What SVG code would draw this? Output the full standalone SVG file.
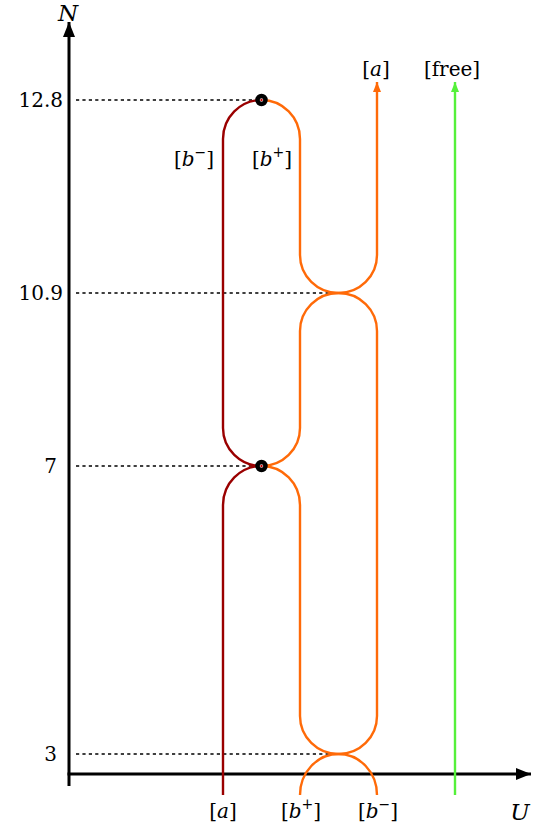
<svg xmlns="http://www.w3.org/2000/svg" width="543" height="831" viewBox="0 0 543 831">
<style>
text{font-family:"DejaVu Serif","Liberation Serif",serif;font-size:20px;fill:#000}
.it{font-style:italic}
.ax-l{font-size:23px}
.lbl{text-anchor:middle}
.num{text-anchor:end}
.axis{stroke:#000;stroke-width:3;fill:none}
.dot{stroke:#000;stroke-width:1.6;stroke-dasharray:3.2 3.2;fill:none}
.red{stroke:#9a0000;stroke-width:2.4;fill:none}
.org{stroke:#ff6a08;stroke-width:2.4;fill:none}
.grn{stroke:#55f03a;stroke-width:2.4;fill:none}
.node{fill:#fff;stroke:#000;stroke-width:4.5}
</style>
<defs>
<marker id="ax" markerWidth="16" markerHeight="12" refX="15" refY="6" orient="auto" markerUnits="userSpaceOnUse"><path d="M0,0 L15,6 L0,12 Z" fill="#000"/></marker>
<marker id="ao" markerWidth="11" markerHeight="8" refX="10" refY="4" orient="auto" markerUnits="userSpaceOnUse"><path d="M0,0 L10,4 L0,8 Z" fill="#ff6a08"/></marker>
<marker id="ag" markerWidth="11" markerHeight="8" refX="10" refY="4" orient="auto" markerUnits="userSpaceOnUse"><path d="M0,0 L10,4 L0,8 Z" fill="#55f03a"/></marker>
</defs>
<g id="guides">
<line class="dot" x1="76" y1="100" x2="255" y2="100"/>
<line class="dot" x1="76" y1="293" x2="330" y2="293"/>
<line class="dot" x1="76" y1="466" x2="255" y2="466"/>
<line class="dot" x1="76" y1="754" x2="330" y2="754"/>
</g>
<g id="axes">
<line class="axis" x1="69" y1="786" x2="69" y2="22" marker-end="url(#ax)"/>
<line class="axis" x1="67.5" y1="774" x2="531" y2="774" marker-end="url(#ax)"/>
<text class="it ax-l" x="68" y="21" text-anchor="middle">N</text>
<text class="it ax-l" x="520" y="820" text-anchor="middle">U</text>
<text class="num" x="63" y="107">12.8</text>
<text class="num" x="63" y="300">10.9</text>
<text class="num" x="57" y="473">7</text>
<text class="num" x="57" y="761">3</text>
</g>
<g id="connectors">
<path class="red" d="M223,795 V505 A38.5,39 0 0 1 261.5,466"/>
<path class="red" d="M261.5,466 A38.5,38 0 0 1 223,428 V139 A38.5,39 0 0 1 261.5,100"/>
<path class="org" d="M261.5,100 A38.5,39 0 0 1 300,139 V255 A38.5,38 0 0 0 338.5,293"/>
<path class="org" d="M338.5,293 A38.5,38 0 0 0 377,255 V82" marker-end="url(#ao)"/>
<path class="org" d="M261.5,466 A38.5,38 0 0 0 300,428 V331 A38.5,38 0 0 1 338.5,293 A38.5,38 0 0 1 377,331 V716 A38.5,38 0 0 1 338.5,754 A38.5,38 0 0 1 300,716 V505 A38.5,39 0 0 0 261.5,466"/>
<path class="org" d="M300,795 A38.5,41 0 0 1 338.5,754 A38.5,41 0 0 1 377,795"/>
<path class="grn" d="M455,795 V82" marker-end="url(#ag)"/>
</g>
<g id="node-top">
<circle class="node" cx="261.5" cy="100" r="4"/>
<circle cx="261.5" cy="100" r="1.2" fill="#c00000"/>
</g>
<g id="node-mid">
<circle class="node" cx="261.5" cy="466" r="4"/>
<circle cx="261.5" cy="466" r="1.2" fill="#c00000"/>
</g>
<g id="labels">
<text class="lbl" x="194" y="166">[<tspan class="it">b</tspan><tspan dy="-9" font-size="14">−</tspan><tspan dy="9">]</tspan></text>
<text class="lbl" x="272" y="166">[<tspan class="it">b</tspan><tspan dy="-9" font-size="14">+</tspan><tspan dy="9">]</tspan></text>
<text class="lbl" x="376" y="76">[<tspan class="it">a</tspan>]</text>
<text class="lbl" x="452" y="76">[free]</text>
<text class="lbl" x="223" y="818">[<tspan class="it">a</tspan>]</text>
<text class="lbl" x="301" y="818">[<tspan class="it">b</tspan><tspan dy="-9" font-size="14">+</tspan><tspan dy="9">]</tspan></text>
<text class="lbl" x="378" y="818">[<tspan class="it">b</tspan><tspan dy="-9" font-size="14">−</tspan><tspan dy="9">]</tspan></text>
</g>
</svg>
